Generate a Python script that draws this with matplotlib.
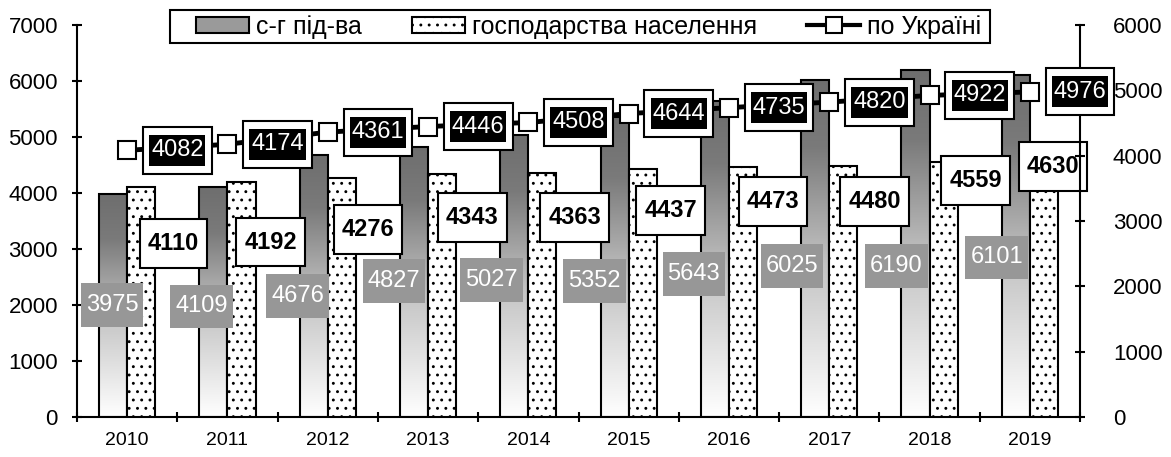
import numpy as np
import matplotlib
matplotlib.use("Agg")
import matplotlib.pyplot as plt
from matplotlib.colors import LinearSegmentedColormap
from matplotlib.lines import Line2D
from matplotlib.patches import Patch, Rectangle
from matplotlib.path import Path

plt.rcParams['font.family'] = ['Liberation Sans', 'DejaVu Sans']
plt.rcParams['hatch.linewidth'] = 0.9

# -----------------------
# Data
# -----------------------
years = ["2010", "2011", "2012", "2013", "2014", "2015", "2016", "2017", "2018", "2019"]
sg = [3975, 4109, 4676, 4827, 5027, 5352, 5643, 6025, 6190, 6101]      # с-г під-ва
hh = [4110, 4192, 4276, 4343, 4363, 4437, 4473, 4480, 4559, 4630]      # господарства населення
ua = [4082, 4174, 4361, 4446, 4508, 4644, 4735, 4820, 4922, 4976]      # по Україні

# label placement (hand-positioned, as in the original)
sg_lab_dx = [-0.15, -0.26, -0.30, -0.34, -0.37, -0.34, -0.35, -0.37, -0.33, -0.33]
sg_lab_y = [2000, 1980, 2160, 2430, 2445, 2430, 2555, 2695, 2695, 2855]
hh_lab_dx = [0.46, 0.43, 0.40, 0.44, 0.46, 0.42, 0.44, 0.45, 0.46, 0.23]
hh_lab_y = [3105, 3125, 3340, 3570, 3555, 3695, 3840, 3840, 4230, 4465]


def rect_box(padx, pady):
    """box style with separate horizontal / vertical padding"""
    def f(x0, y0, width, height, mutation_size):
        px = padx * mutation_size
        py = pady * mutation_size
        x0, y0 = x0 - px, y0 - py
        x1, y1 = x0 + width + 2 * px, y0 + height + 2 * py
        return Path([(x0, y0), (x1, y0), (x1, y1), (x0, y1), (x0, y0)], closed=True)
    return f


x = np.arange(len(years))
w = 0.28
lw = 1.5
fs = 17

fig = plt.figure(figsize=(11.71, 4.57), dpi=100)
ax = fig.add_axes([0.0658, 0.0875, 0.8565, 0.8578])
ax2 = ax.twinx()

# gradient bars
cmap = LinearSegmentedColormap.from_list(
    "g", [(0.0, "#ffffff"), (0.45, "#c4c4c4"), (0.8, "#7a7a7a"), (1.0, "#6e6e6e")])
grad = np.linspace(1, 0, 256).reshape(-1, 1)
bars1 = ax.bar(x - w / 2, sg, w, facecolor="none", edgecolor="black", linewidth=lw, zorder=3)
for b in bars1:
    im = ax.imshow(grad, cmap=cmap, aspect="auto", zorder=2,
                   extent=[b.get_x(), b.get_x() + b.get_width(), 0, b.get_height()])
    im.set_clip_path(b)

bars2 = ax.bar(x + w / 2, hh, w, facecolor="white", edgecolor="black",
               linewidth=lw, hatch="..", zorder=3)

ax.set_xlim(-0.5, len(years) - 0.5)
ax.set_ylim(0, 7000)
ax2.set_ylim(0, 6000)

# line on right axis
ax2.plot(x, ua, color="black", linewidth=3.5, marker="s", markersize=13,
         markerfacecolor="white", markeredgecolor="black", markeredgewidth=1.5, zorder=5)

# labels
for i in range(len(years)):
    ax.text(i + sg_lab_dx[i], sg_lab_y[i], str(sg[i]), color="white", fontsize=fs,
            ha="center", va="center", zorder=6,
            bbox=dict(boxstyle=rect_box(0.21, 0.45), facecolor="#979797", edgecolor="none"))
    ax.text(i + hh_lab_dx[i], hh_lab_y[i], str(hh[i]), color="black", fontsize=fs,
            fontweight="bold", ha="center", va="center", zorder=7,
            bbox=dict(boxstyle=rect_box(0.34, 0.55), facecolor="white",
                      edgecolor="black", linewidth=lw))
    ax2.text(i + 0.5, ua[i], str(ua[i]), color="white", fontsize=fs,
             ha="center", va="center", zorder=8,
             bbox=dict(boxstyle=rect_box(0.34, 0.53), facecolor="white",
                       edgecolor="black", linewidth=lw))
    ax2.text(i + 0.5, ua[i], str(ua[i]), color="white", fontsize=fs,
             ha="center", va="center", zorder=9,
             bbox=dict(boxstyle=rect_box(0.08, 0.19), facecolor="black", edgecolor="none"))

# axes styling
for a in (ax, ax2):
    a.spines["top"].set_visible(False)
    for s in a.spines.values():
        s.set_linewidth(lw)
ax.spines["right"].set_visible(False)
ax2.spines["left"].set_visible(False)
ax2.spines["bottom"].set_visible(False)

ax.set_yticks(range(0, 7001, 1000))
ax2.set_yticks(range(0, 6001, 1000))
ax.tick_params(axis="y", direction="inout", length=7.5, width=lw, labelsize=16, pad=10)
ax2.tick_params(axis="y", direction="inout", length=7.5, width=lw, labelsize=16, pad=20)

ax.set_xticks(x)
ax.set_xticklabels(years)
ax.set_xticks(np.arange(-0.5, len(years) + 0.5, 1), minor=True)
ax.tick_params(axis="x", which="major", length=0, labelsize=14, pad=11)
ax.tick_params(axis="x", which="minor", direction="inout", length=7.5, width=lw)

# legend (frame drawn separately, Excel-style uneven padding)
fig.patches.append(Rectangle((170 / 1171, 1 - 43 / 457), 820 / 1171, 33 / 457,
                             transform=fig.transFigure, facecolor="white",
                             edgecolor="black", linewidth=lw, zorder=10))
handles = [
    Patch(facecolor="#9a9a9a", edgecolor="black", linewidth=lw),
    Patch(facecolor="white", edgecolor="black", linewidth=lw, hatch=".."),
    Line2D([], [], color="black", linewidth=3, marker="s", markersize=11,
           markerfacecolor="white", markeredgecolor="black", markeredgewidth=1.5),
]
leg = fig.legend(handles, ["с-г під-ва", "господарства населення", "по Україні"],
                 loc="center", bbox_to_anchor=(0.503, 0.942), ncol=3, fontsize=18,
                 frameon=False, handlelength=2.1, handleheight=0.6, handletextpad=0.3,
                 columnspacing=2.0, borderpad=0.2, borderaxespad=0)
leg.set_zorder(11)

fig.savefig("out.png", dpi=100)
